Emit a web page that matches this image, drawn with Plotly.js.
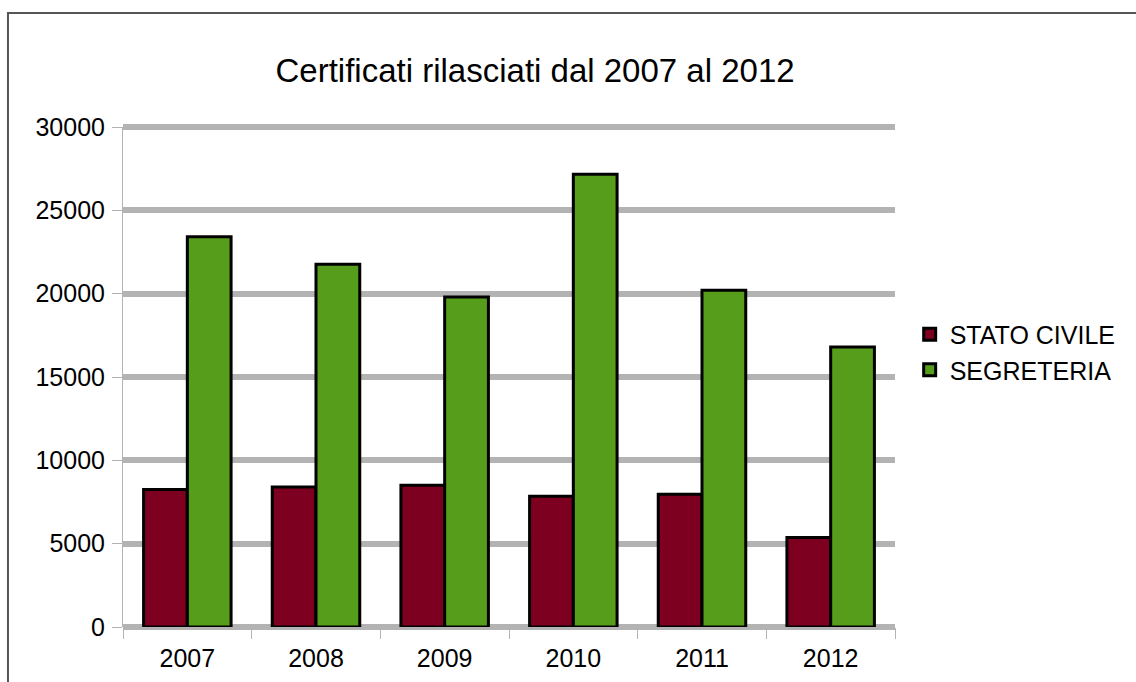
<!DOCTYPE html>
<html>
<head>
<meta charset="utf-8">
<script src="https://cdn.plot.ly/plotly-3.0.1.min.js"></script>
<style>html,body{margin:0;padding:0;background:#fff;}</style>
</head>
<body>
<div id="chart" style="width:1136px;height:682px;"></div>
<script>
const years = ["2007", "2008", "2009", "2010", "2011", "2012"];
const statoCivile = [8250, 8400, 8500, 7850, 7960, 5370];
const segreteria = [23420, 21770, 19800, 27170, 20200, 16800];
const seriesNames = ["STATO CIVILE", "SEGRETERIA"];
const yTicks = [0, 5000, 10000, 15000, 20000, 25000, 30000];
const yMax = 30000;

const font = "Liberation Sans, Arial, sans-serif";

const traces = [
  {type: "bar", x: years, y: statoCivile, name: seriesNames[0], legendgroup: "a",
   marker: {color: "#7e0021", line: {color: "#000000", width: 3}}, hoverinfo: "x+y+name"},
  {type: "bar", x: years, y: segreteria, name: seriesNames[1], legendgroup: "b",
   marker: {color: "#579d1c", line: {color: "#000000", width: 3}}, hoverinfo: "x+y+name"}
];

const layout = {
  width: 1136, height: 682, autosize: false,
  margin: {l: 123, r: 241, t: 127, b: 55, pad: 0},
  paper_bgcolor: "#ffffff", plot_bgcolor: "#ffffff",
  font: {family: font, size: 25, color: "#000000"},
  title: {text: "Certificati rilasciati dal 2007 al 2012", font: {family: font, size: 33, color: "#000000"},
          x: 0.471, xanchor: "center", xref: "container", y: 0.896, yanchor: "middle", yref: "container"},
  barmode: "group", bargap: 0.32, bargroupgap: 0,
  xaxis: {type: "category", tickson: "boundaries", ticks: "outside", ticklen: 11, tickcolor: "#b3b3b3", tickwidth: 1,
          ticklabelstandoff: 14,
          showgrid: false, zeroline: false, showline: false, tickfont: {family: font, size: 25, color: "#000000"}},
  yaxis: {range: [0, yMax], tickvals: yTicks, ticktext: yTicks.map(String), ticks: "outside", ticklen: 10,
          tickcolor: "#b3b3b3", tickwidth: 1, showline: true, linecolor: "#b3b3b3", linewidth: 1,
          ticklabelstandoff: 2,
          showgrid: true, gridcolor: "#b3b3b3", gridwidth: 6,
          zeroline: true, zerolinecolor: "#b3b3b3", zerolinewidth: 6,
          tickfont: {family: font, size: 25, color: "#000000"}},
  showlegend: true,
  legend: {x: 1.019, xanchor: "left", y: 0.55, yanchor: "middle", bgcolor: "rgba(0,0,0,0)", borderwidth: 0,
           font: {family: font, size: 25, color: "#000000"}, traceorder: "normal", tracegroupgap: 6},
  shapes: [
    // top gridline at the axis maximum (Plotly drops gridlines at the range edge)
    {type: "line", xref: "paper", yref: "paper", x0: 0, x1: 1, y0: 1, y1: 1,
     line: {color: "#b3b3b3", width: 6}, layer: "below"},
    // outer chart border
    {type: "rect", xref: "paper", yref: "paper", x0: -0.149, x1: 1.5, y0: -0.3, y1: 1.228,
     line: {color: "#555555", width: 2}, fillcolor: "rgba(0,0,0,0)", layer: "above"}
  ]
};

Plotly.newPlot("chart", traces, layout, {displayModeBar: false, staticPlot: true});
</script>
</body>
</html>
